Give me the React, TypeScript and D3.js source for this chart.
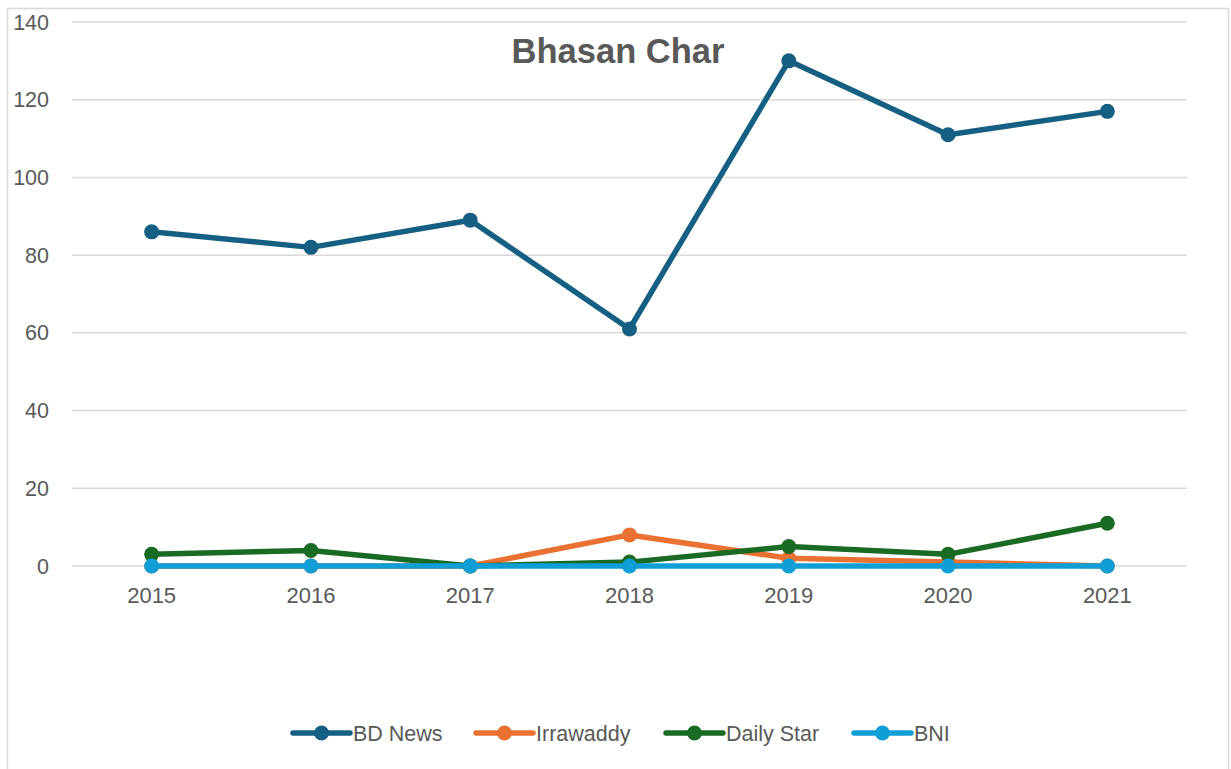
import React, { useEffect, useRef } from "react";
import * as d3 from "d3";

const years = ["2015", "2016", "2017", "2018", "2019", "2020", "2021"];
const bdNews = [86, 82, 89, 61, 130, 111, 117];
const irrawaddy = [0, 0, 0, 8, 2, 1, 0];
const dailyStar = [3, 4, 0, 1, 5, 3, 11];
const bni = [0, 0, 0, 0, 0, 0, 0];
const yTicks = [0, 20, 40, 60, 80, 100, 120, 140];

const series = [
  { name: "BD News", values: bdNews, color: "#156082" },
  { name: "Irrawaddy", values: irrawaddy, color: "#E97132" },
  { name: "Daily Star", values: dailyStar, color: "#196B24" },
  { name: "BNI", values: bni, color: "#0F9ED5" },
];

const W = 1231;
const H = 769;
const font = "'Liberation Sans', Arial, sans-serif";

export default function App() {
  const ref = useRef<SVGSVGElement>(null);

  useEffect(() => {
    const svg = d3.select(ref.current);
    svg.selectAll("*").remove();

    const left = 72, right = 1187, top = 22, bottom = 566;

    // chart frame
    svg.append("rect")
      .attr("x", 7.5).attr("y", 8.5)
      .attr("width", 1221).attr("height", 780)
      .attr("fill", "white").attr("stroke", "#d9d9d9").attr("stroke-width", 1.5);

    const x = d3.scaleBand().domain(years).range([left, right]);
    const y = d3.scaleLinear().domain([0, 140]).range([bottom, top]);

    // grid
    svg.append("g")
      .selectAll("line")
      .data(yTicks).enter()
      .append("line")
      .attr("x1", left).attr("x2", right)
      .attr("y1", d => y(d)).attr("y2", d => y(d))
      .attr("stroke", "#d9d9d9").attr("stroke-width", 1.5);

    // y labels
    svg.append("g")
      .selectAll("text")
      .data(yTicks).enter()
      .append("text")
      .attr("x", 49).attr("y", d => y(d))
      .attr("dy", "0.35em")
      .attr("text-anchor", "end")
      .attr("font-family", font).attr("font-size", 21.5)
      .attr("fill", "#595959")
      .text(d => d);

    // x labels
    svg.append("g")
      .selectAll("text")
      .data(years).enter()
      .append("text")
      .attr("x", d => x(d)! + x.bandwidth() / 2)
      .attr("y", 603)
      .attr("text-anchor", "middle")
      .attr("font-family", font).attr("font-size", 22)
      .attr("fill", "#595959")
      .text(d => d);

    // title
    svg.append("text")
      .attr("x", 618).attr("y", 63)
      .attr("text-anchor", "middle")
      .attr("font-family", font).attr("font-size", 34.5).attr("font-weight", "bold")
      .attr("fill", "#595959")
      .text("Bhasan Char");

    const line = d3.line<number>()
      .x((d, i) => x(years[i])! + x.bandwidth() / 2)
      .y(d => y(d));

    series.forEach(s => {
      const g = svg.append("g");
      g.append("path")
        .datum(s.values)
        .attr("d", line)
        .attr("fill", "none")
        .attr("stroke", s.color)
        .attr("stroke-width", 5.5)
        .attr("stroke-linejoin", "round")
        .attr("stroke-linecap", "round");
      g.selectAll("circle")
        .data(s.values).enter()
        .append("circle")
        .attr("cx", (d, i) => x(years[i])! + x.bandwidth() / 2)
        .attr("cy", d => y(d))
        .attr("r", 7.5)
        .attr("fill", s.color);
    });

    // legend
    const legendX = [293, 476, 666, 854];
    const leg = svg.append("g");
    series.forEach((s, i) => {
      const lx = legendX[i];
      const ly = 733;
      leg.append("line")
        .attr("x1", lx).attr("x2", lx + 57)
        .attr("y1", ly).attr("y2", ly)
        .attr("stroke", s.color).attr("stroke-width", 5.5)
        .attr("stroke-linecap", "round");
      leg.append("circle")
        .attr("cx", lx + 28.5).attr("cy", ly).attr("r", 7.5)
        .attr("fill", s.color);
      leg.append("text")
        .attr("x", lx + 60).attr("y", ly)
        .attr("dy", "0.35em")
        .attr("font-family", font).attr("font-size", 21.5)
        .attr("fill", "#595959")
        .text(s.name);
    });
  }, []);

  return (
    <svg ref={ref} width={W} height={H}
      style={{ position: "absolute", left: 0, top: 0, background: "white" }} />
  );
}
